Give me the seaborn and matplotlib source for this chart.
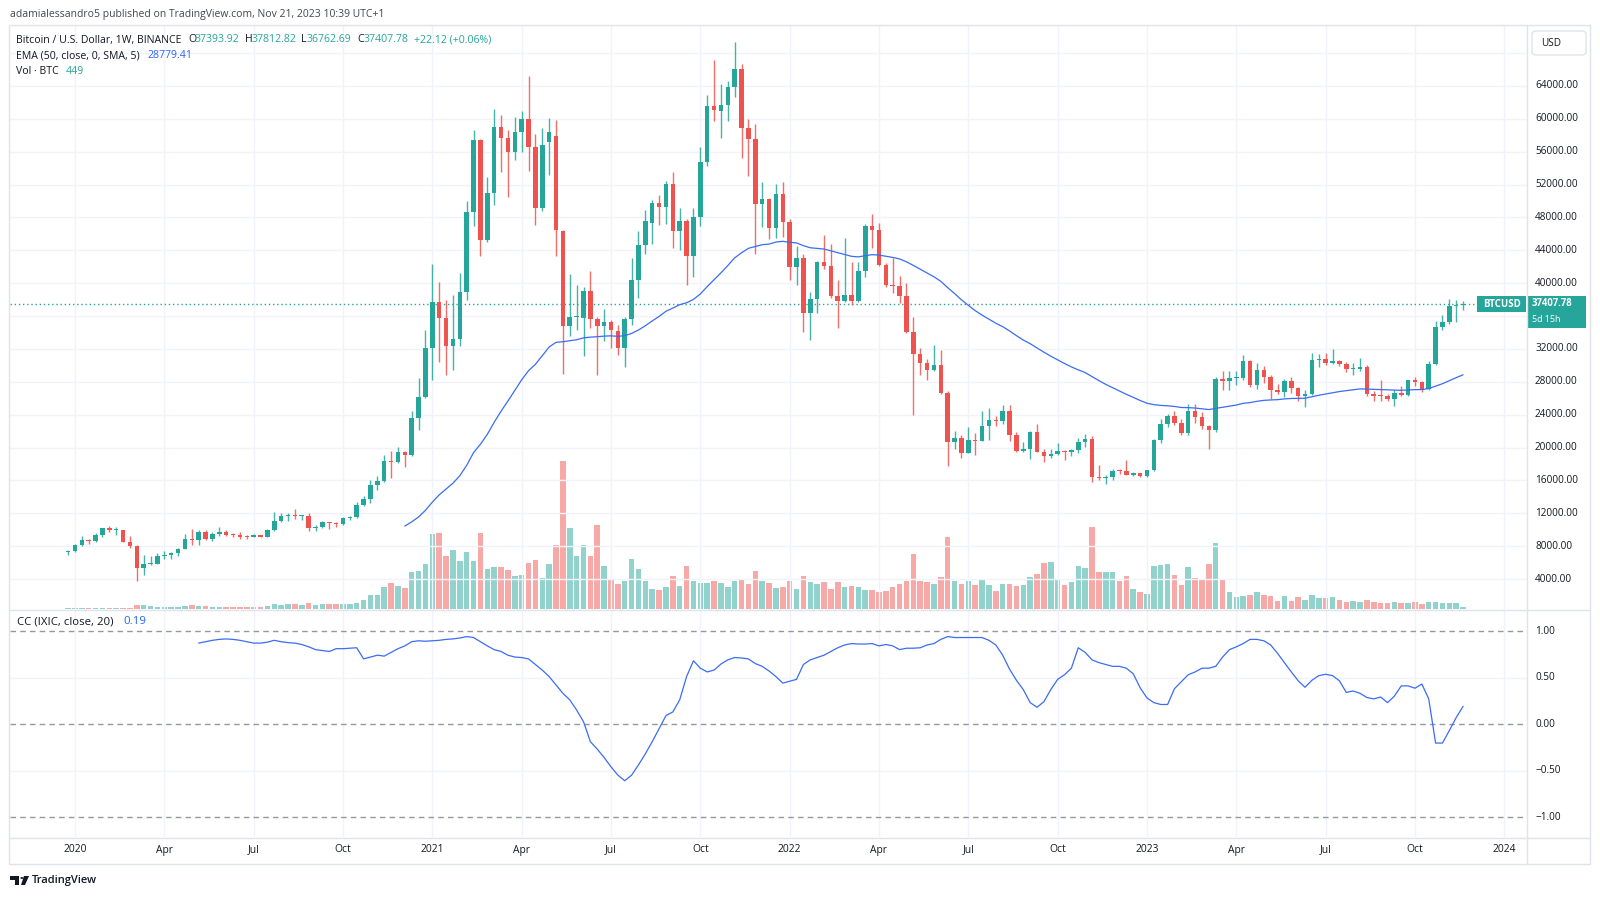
import numpy as np
import pandas as pd
import matplotlib
matplotlib.use("Agg")
import matplotlib.pyplot as plt
import seaborn as sns
from matplotlib.patches import Rectangle, FancyBboxPatch, Circle, Polygon
from matplotlib.lines import Line2D
from matplotlib.transforms import blended_transform_factory

# ---- weekly BTC candles, Binance, first bar = week of 30 Dec 2019 ----
first_week = "2019-12-30"

opens = [
    7250, 7360, 8180, 8700, 8600, 9350, 10150, 9920, 9960, 8530,
    8030, 5360, 5820, 5880, 6780, 6900, 7120, 7700, 8900, 8720,
    9680, 8900, 9450, 9750, 9380, 9300, 9120, 9070, 9300, 9170,
    9930, 11050, 11680, 11850, 11650, 11680, 10250, 10330, 10930, 10770,
    10670, 11370, 11500, 13030, 13740, 15480, 15960, 18400, 18180, 19400,
    19150, 23600, 26150, 32100, 37750, 35800, 32300, 33200, 38900, 48700,
    57450, 45200, 50990, 59000, 57650, 55950, 58400, 59950, 56600, 49200,
    57200, 57900, 46400, 34800, 35870, 35780, 39020, 35600, 34790, 35330,
    34200, 32090, 35690, 40400, 44600, 47300, 49700, 49325, 52100, 46400,
    47570, 43340, 48065, 54770, 61565, 60900, 61655, 63815, 66065, 58820,
    57515, 49640, 50180, 46715, 50900, 47390, 41990, 43115, 36365, 38030,
    42530, 42125, 38390, 37850, 38570, 37850, 41450, 46940, 46490, 42215,
    39740, 39650, 38480, 34025, 31370, 30290, 29480, 30000, 26635, 20640,
    21170, 19355, 20885, 20850, 22665, 23395, 23190, 24410, 21580, 19555,
    19800, 21860, 19475, 18945, 19200, 19555, 19435, 19680, 20690, 21050,
    16450, 16350, 16450, 17200, 17115, 16715, 16900, 16510, 17240, 20970,
    22870, 23880, 22990, 21775, 24410, 23680, 22585, 22180, 28335, 28050,
    28460, 28480, 30485, 27650, 29470, 28540, 27040, 26715, 28135, 27240,
    26230, 26555, 30605, 30770, 30280, 30565, 30200, 29550, 29600, 29795,
    26555, 26300, 26230, 25905, 26635, 26350, 28175, 27930, 27120, 30160,
    34655, 35220, 37245, 37393.92,
]

highs = [
    7550, 8300, 9190, 8900, 9560, 10160, 10500, 10300, 9990, 9190,
    8180, 6900, 6830, 7200, 7470, 7290, 7770, 9470, 10070, 9950,
    10000, 9740, 10380, 10000, 9590, 9760, 9370, 9470, 9350, 10100,
    12120, 12050, 12080, 12490, 11800, 12070, 10580, 11100, 10990, 10950,
    11500, 11720, 13350, 14090, 16070, 16480, 19130, 19580, 20120, 19550,
    24440, 28490, 34340, 42350, 40190, 37940, 38600, 41180, 49955, 58640,
    57600, 52880, 61200, 60440, 58640, 60200, 60890, 65165, 58190, 58900,
    60080, 59855, 46500, 41090, 39740, 39500, 41450, 35900, 36815, 35465,
    34900, 35900, 43115, 46400, 48875, 50090, 50720, 52430, 53555, 49190,
    47840, 49190, 56615, 62915, 67190, 64265, 64580, 69350, 66650, 59990,
    59315, 52340, 50315, 52115, 52340, 47750, 44555, 43565, 38930, 42665,
    45905, 44825, 40370, 45455, 42620, 42620, 47165, 48380, 47300, 42440,
    43115, 40865, 40010, 35915, 32090, 30740, 32510, 31900, 26900, 21980,
    21580, 22545, 21775, 24410, 24815, 23800, 25135, 25215, 21900, 20640,
    22000, 22910, 19800, 19800, 20560, 19650, 19760, 21170, 21655, 21450,
    17845, 16700, 17400, 17400, 18460, 17000, 16920, 17300, 21050, 23480,
    24125, 24410, 23520, 25340, 25300, 24330, 22700, 28540, 29270, 29270,
    29270, 31295, 30600, 30280, 29875, 28860, 27770, 28380, 28540, 27365,
    26960, 31495, 31400, 31495, 32020, 30690, 30360, 30280, 30890, 30080,
    26840, 28255, 26555, 27040, 27525, 28255, 28580, 28050, 30485, 35425,
    36150, 38055, 37970, 37812.82,
]

lows = [
    6870, 7310, 8050, 8240, 8560, 9100, 9730, 9300, 8450, 7800,
    3750, 4440, 5670, 5850, 6470, 6460, 6750, 7630, 8120, 8200,
    8800, 8630, 9270, 9250, 9120, 8830, 8900, 9060, 9070, 9120,
    9900, 10950, 11120, 11250, 11130, 9880, 9880, 10200, 10140, 10370,
    10530, 11180, 11400, 12900, 13200, 14800, 15800, 16340, 18100, 17650,
    19000, 22100, 26000, 28265, 30380, 28850, 29390, 32300, 37990, 47000,
    43250, 44950, 49500, 53465, 50450, 55040, 55940, 53600, 47030, 48750,
    53150, 43250, 29000, 33530, 34250, 31100, 34600, 28850, 32990, 32090,
    31280, 29750, 34900, 38165, 43520, 44780, 47030, 47165, 44240, 44015,
    39830, 40775, 46940, 54230, 59765, 57605, 59765, 62600, 55265, 53015,
    43565, 46850, 45335, 45500, 45590, 40415, 39740, 34115, 33080, 36365,
    41765, 38165, 34565, 37715, 37400, 37715, 40730, 44330, 42100, 39515,
    38840, 37625, 33890, 24000, 28850, 28265, 29300, 26500, 17805, 19820,
    18740, 19300, 19140, 20750, 20885, 22665, 22900, 20845, 19480, 19400,
    18660, 19400, 18255, 18700, 19100, 18460, 19000, 19300, 20100, 15825,
    16105, 15580, 16100, 16800, 16650, 16550, 16450, 16450, 17115, 20560,
    22500, 22800, 21580, 21500, 22990, 22300, 19820, 21855, 26960, 26960,
    27650, 28260, 27365, 27120, 27850, 25905, 26555, 26110, 26635, 25620,
    24935, 26435, 29800, 30080, 30150, 29875, 29190, 28860, 29300, 26230,
    25620, 25620, 25620, 25095, 26300, 26230, 27445, 26715, 27040, 30080,
    34330, 35060, 35220, 36762.69,
]

closes = [
    7360, 8180, 8700, 8600, 9350, 10150, 9920, 9960, 8530, 8030,
    5360, 5820, 5880, 6780, 6900, 7120, 7700, 8900, 8720, 9680,
    8900, 9450, 9750, 9380, 9300, 9120, 9070, 9300, 9170, 9930,
    11050, 11680, 11850, 11650, 11680, 10250, 10330, 10930, 10770, 10670,
    11370, 11500, 13030, 13740, 15480, 15960, 18400, 18180, 19400, 19150,
    23600, 26150, 32100, 37750, 35800, 32300, 33200, 38900, 48700, 57450,
    45200, 50990, 59000, 57650, 55950, 58400, 59950, 56600, 49200, 56750,
    58370, 46490, 34790, 35870, 36050, 39020, 35600, 34790, 35330, 34340,
    32090, 35690, 40400, 44600, 47525, 49700, 49325, 52100, 46400, 47570,
    43340, 48065, 54770, 61565, 61115, 61655, 63815, 66065, 58820, 57515,
    49640, 50180, 46715, 50900, 47390, 41990, 43115, 36365, 38030, 42530,
    42125, 38390, 37850, 38570, 37850, 41450, 46940, 46490, 42215, 39740,
    39650, 38480, 34025, 31370, 30290, 29480, 30000, 26635, 20640, 21170,
    19355, 20885, 20850, 22665, 23395, 23190, 24410, 21580, 19555, 19800,
    21860, 19475, 18945, 19200, 19555, 19435, 19680, 20690, 21050, 16450,
    16350, 16450, 17200, 17115, 16715, 16900, 16510, 17240, 20970, 22870,
    23880, 22990, 21775, 24410, 23680, 22585, 22180, 28335, 28050, 28460,
    28480, 30485, 27650, 29470, 28540, 27040, 26715, 28135, 27240, 26230,
    26555, 30605, 30770, 30280, 30565, 30200, 29550, 29600, 29795, 26555,
    26300, 26230, 25905, 26635, 26350, 28175, 27930, 27120, 30160, 34655,
    35220, 37245, 37385.66, 37407.78,
]

# weekly volume, BTC
volumes = [
    180, 220, 250, 230, 210, 260, 240, 230, 270, 250,
    1140, 1060, 710, 530, 530, 530, 530, 710, 1060, 790,
    710, 530, 530, 530, 530, 530, 530, 530, 530, 710,
    1400, 1060, 1320, 1320, 1060, 1500, 1060, 1320, 1320, 1320,
    1320, 1450, 1480, 2460, 3700, 3700, 5800, 6860, 6070, 5540,
    9770, 10030, 11880, 19800, 20060, 13990, 15580, 12670, 15050, 12670,
    20060, 10560, 11090, 11090, 10300, 8710, 8980, 12140, 12940, 8180,
    11880, 16900, 39070, 21380, 13990, 16900, 13990, 22180, 11350, 7660,
    6600, 7390, 13200, 10560, 7390, 5280, 5020, 5810, 8710, 6070,
    11350, 7390, 6860, 6860, 7390, 6860, 5810, 7390, 7920, 6600,
    10030, 7390, 6860, 5540, 5810, 7390, 5280, 8710, 7130, 6600,
    7130, 5280, 7130, 5810, 6070, 5810, 5020, 5020, 4490, 4750,
    5810, 6600, 7390, 14520, 7390, 7130, 6600, 8450, 19010, 7390,
    6600, 7390, 6340, 7660, 6340, 4750, 6600, 6600, 6070, 6340,
    8450, 9240, 12140, 12410, 7660, 6340, 7130, 11350, 10820, 21650,
    9770, 9770, 9770, 7390, 8710, 5280, 4490, 3960, 11350, 11620,
    11880, 8980, 6340, 11090, 8180, 7660, 11880, 17420, 7660, 4490,
    3170, 3430, 3700, 4490, 3700, 3430, 2110, 3430, 2110, 3170,
    2380, 3700, 2900, 2900, 3170, 2380, 1850, 2110, 1850, 2380,
    1850, 1580, 1580, 1850, 1580, 1580, 1850, 1320, 1850, 1850,
    1580, 1580, 1580, 449,
]

# correlation coefficient vs IXIC (20); undefined for the first 19 bars
cc_values = [np.nan] * 19 + [
    0.87, 0.885, 0.90, 0.91, 0.915, 0.91, 0.90, 0.885, 0.87, 0.87,
    0.88, 0.90, 0.885, 0.875, 0.87, 0.855, 0.83, 0.80, 0.79, 0.78,
    0.81, 0.81, 0.815, 0.82, 0.70, 0.72, 0.74, 0.73, 0.77, 0.81,
    0.84, 0.885, 0.895, 0.89, 0.895, 0.90, 0.91, 0.915, 0.925, 0.94,
    0.93, 0.885, 0.84, 0.80, 0.78, 0.74, 0.72, 0.715, 0.70, 0.64,
    0.58, 0.51, 0.42, 0.33, 0.26, 0.15, 0.025, -0.19, -0.27, -0.36,
    -0.46, -0.55, -0.61, -0.55, -0.44, -0.32, -0.19, -0.05, 0.09, 0.13,
    0.26, 0.51, 0.68, 0.60, 0.56, 0.58, 0.645, 0.69, 0.715, 0.71,
    0.70, 0.65, 0.62, 0.57, 0.51, 0.44, 0.46, 0.48, 0.64, 0.69,
    0.715, 0.74, 0.78, 0.82, 0.85, 0.865, 0.86, 0.86, 0.865, 0.84,
    0.855, 0.84, 0.80, 0.815, 0.815, 0.82, 0.85, 0.865, 0.91, 0.94,
    0.93, 0.93, 0.93, 0.93, 0.93, 0.90, 0.85, 0.74, 0.59, 0.47,
    0.37, 0.23, 0.18, 0.24, 0.37, 0.48, 0.53, 0.60, 0.82, 0.77,
    0.69, 0.66, 0.64, 0.62, 0.62, 0.60, 0.54, 0.39, 0.28, 0.23,
    0.21, 0.21, 0.38, 0.455, 0.53, 0.56, 0.60, 0.60, 0.62, 0.72,
    0.80, 0.83, 0.865, 0.91, 0.91, 0.895, 0.85, 0.76, 0.66, 0.56,
    0.465, 0.395, 0.47, 0.52, 0.535, 0.52, 0.465, 0.34, 0.355, 0.33,
    0.285, 0.27, 0.29, 0.23, 0.30, 0.41, 0.41, 0.385, 0.43, 0.27,
    -0.205, -0.205, -0.07, 0.07, 0.19,
]

ema_legend_value = 28779.41   # as printed in the chart legend
price_ticks = list(range(4000, 68001, 4000))
cc_ticks = [1.0, 0.5, 0.0, -0.5, -1.0]

# ---- look ----
UP, DN = "#26a69a", "#ef5350"
UP_VOL, DN_VOL = "#92d2cc", "#f7a9a7"
BLUE = "#2962ff"
TXT = "#131722"
GRID = "#f0f3fa"
BORDER = "#e0e3eb"

sns.set_theme(style="white")
plt.rcParams["font.family"] = ["Open Sans", "DejaVu Sans"]

W, H = 1600, 898
fig = plt.figure(figsize=(W / 100, H / 100), dpi=100)
fig.patch.set_facecolor("white")


def fx(px):
    return px / W


def fy(py):
    return 1 - py / H


LEFT, RIGHT = 9.5, 1527
P_TOP, P_BOT = 26, 609
C_TOP, C_BOT = 610, 837

rect_p = [fx(LEFT), fy(P_BOT), fx(RIGHT) - fx(LEFT), fy(P_TOP) - fy(P_BOT)]
rect_c = [fx(LEFT), fy(C_BOT), fx(RIGHT) - fx(LEFT), fy(C_TOP) - fy(C_BOT)]

ax_v = fig.add_axes(rect_p)
ax_p = fig.add_axes(rect_p, sharex=ax_v)
ax_c = fig.add_axes(rect_c, sharex=ax_v)

n = len(closes)
idx = np.arange(n)
o = np.array(opens, float)
h = np.array(highs, float)
l = np.array(lows, float)
c = np.array(closes, float)
v = np.array(volumes, float)
up = c >= o

dates = pd.date_range(first_week, periods=n + 10, freq="7D")

ax_v.set_xlim(-8.53, 212.3)
ax_p.set_ylim(352, 71290)
ax_v.set_ylim(0, 583 * 264)
ax_c.set_ylim(-1.215, 1.226)

# time ticks: first weekly bar of each quarter
tick_pos, tick_lab = [], []
for i in range(1, len(dates)):
    d, prev = dates[i], dates[i - 1]
    if d.month != prev.month and d.month in (1, 4, 7, 10):
        tick_pos.append(i)
        tick_lab.append(str(d.year) if d.month == 1 else d.strftime("%b"))

# grid
for p in price_ticks:
    ax_p.axhline(p, color=GRID, lw=1, zorder=0)
for t in tick_pos:
    ax_p.axvline(t, color=GRID, lw=1, zorder=0)
    ax_c.axvline(t, color=GRID, lw=1, zorder=0)
for g in (0.5, -0.5):
    ax_c.axhline(g, color=GRID, lw=1, zorder=0)
for g in (1.0, 0.0, -1.0):
    ax_c.axhline(g, color="#9598a1", lw=1, ls=(0, (4, 3)), zorder=1)

# volume
ax_v.bar(idx, v, width=0.8, color=np.where(up, UP_VOL, DN_VOL), lw=0, zorder=2)

# candles
col = np.where(up, UP, DN)
ax_p.vlines(idx, l, h, colors=col, lw=1, alpha=0.85, zorder=3)
body_lo = np.minimum(o, c)
body_h = np.maximum(np.abs(c - o), 120)
ax_p.bar(idx, body_h, bottom=body_lo, width=0.66, color=col, lw=0, zorder=4)

# EMA 50 (TradingView seeds it with the SMA of the first 50 closes)
ema = np.full(n, np.nan)
ema[49] = c[:50].mean()
alpha = 2 / 51
for k in range(50, n):
    ema[k] = alpha * c[k] + (1 - alpha) * ema[k - 1]
ema_df = pd.DataFrame({"bar": idx, "ema": ema}).dropna()
sns.lineplot(data=ema_df, x="bar", y="ema", ax=ax_p, color="#3a6cf4", lw=0.9, zorder=5)

# last price line
ax_p.axhline(c[-1], xmax=(1477 - LEFT) / (RIGHT - LEFT), color=UP, lw=1,
             ls=(0, (1, 2)), zorder=2)

# CC line
cc_df = pd.DataFrame({"bar": idx, "cc": cc_values}).dropna()
sns.lineplot(data=cc_df, x="bar", y="cc", ax=ax_c, color="#3a6cf4", lw=0.9, zorder=3)
for a in (ax_p, ax_c, ax_v):
    a.set_xlabel("")
    a.set_ylabel("")
    a.set_axis_off()

# pixel row of the last price, used for the price tag and to hide labels under it
y_last_px = ax_p.transData.transform((0, c[-1]))[1]

# right-hand labels
lab_x = (1535 - LEFT) / (RIGHT - LEFT)
bt_p = blended_transform_factory(ax_p.transAxes, ax_p.transData)
for p in price_ticks[:-1]:
    y_px = ax_p.transData.transform((0, p))[1]
    if -28 < y_px - y_last_px < 14:
        continue  # covered by the price tag
    ax_p.text(lab_x, p, f"{p:.2f}", transform=bt_p, ha="left", va="center",
              fontsize=7.2, color=TXT, clip_on=False)
bt_c = blended_transform_factory(ax_c.transAxes, ax_c.transData)
for t in cc_ticks:
    ax_c.text(lab_x, t, f"{t:.2f}".replace("-", "\u2212"), transform=bt_c,
              ha="left", va="center", fontsize=7.2, color=TXT, clip_on=False)

# time labels
bt_t = blended_transform_factory(ax_c.transData, ax_c.transAxes)
for t, s in zip(tick_pos, tick_lab):
    ax_c.text(t, -(850 - C_BOT) / (C_BOT - C_TOP), s, transform=bt_t,
              ha="center", va="center", fontsize=7.4, color=TXT, clip_on=False)

# frame
fig.add_artist(Rectangle((fx(9), fy(864)), fx(1590) - fx(9), fy(25) - fy(864),
                         transform=fig.transFigure, fill=False, ec=BORDER, lw=1))
for yy in (609.5, 837.5):
    fig.add_artist(Line2D([fx(9), fx(1590)], [fy(yy), fy(yy)], color=BORDER, lw=1))
fig.add_artist(Line2D([fx(1527), fx(1527)], [fy(25), fy(864)], color=BORDER, lw=1))

# header texts


def ftext(x, y, s, color=TXT, size=7.6, **kw):
    fig.text(fx(x), fy(y), s, color=color, fontsize=size, ha="left", va="center", **kw)


ftext(10, 14, "adamialessandro5 published on TradingView.com, Nov 21, 2023 10:39 UTC+1",
      color="#434651", size=7.5)
ftext(16, 40, "Bitcoin / U.S. Dollar, 1W, BINANCE")
ftext(188, 40, "O")
ftext(195, 40, f"{o[-1]:.2f}", color=UP)
ftext(245, 40, "H")
ftext(252, 40, f"{h[-1]:.2f}", color=UP)
ftext(301, 40, "L")
ftext(307, 40, f"{l[-1]:.2f}", color=UP)
ftext(357, 40, "C")
ftext(364, 40, f"{c[-1]:.2f}", color=UP)
chg = c[-1] - c[-2]
ftext(414, 40, f"+{chg:.2f} (+{chg / c[-2] * 100:.2f}%)", color=UP)
ftext(16, 56, "EMA (50, close, 0, SMA, 5)")
ftext(147, 56, f"{ema_legend_value:.2f}", color=BLUE)
ftext(16, 72, "Vol \u00b7 BTC")
ftext(66, 72, f"{v[-1]:.0f}", color=UP)
ftext(17, 622, "CC (IXIC, close, 20)", size=8.2)
ftext(123, 622, f"{cc_values[-1]:.2f}", color=BLUE, size=8.2)

# USD box
fig.add_artist(FancyBboxPatch((fx(1532), fy(55)), fx(1586) - fx(1532), fy(31) - fy(55),
                              boxstyle="round,pad=0,rounding_size=0.003",
                              transform=fig.transFigure, fc="white", ec=BORDER, lw=1))
ftext(1541, 43, "USD", size=7.2)

# last price tags
y_last = y_last_px / H
box_h = 16 / H
fig.add_artist(Rectangle((fx(1477), y_last - box_h / 2), fx(1526) - fx(1477), box_h,
                         transform=fig.transFigure, fc=UP, ec="none"))
fig.text(fx(1501.5), y_last, "BTCUSD", color="white", fontsize=6.9, fontweight="bold",
         ha="center", va="center")
fig.add_artist(Rectangle((fx(1527), y_last - box_h / 2 - 16 / H), fx(1586) - fx(1527),
                         box_h + 16 / H, transform=fig.transFigure, fc=UP, ec="none"))
fig.text(fx(1532), y_last + 1 / H, f"{c[-1]:.2f}", color="white", fontsize=6.9,
         fontweight="bold", ha="left", va="center")
fig.text(fx(1532), y_last - 15.5 / H, "5d 15h", color="white", fontsize=6.4,
         ha="left", va="center")

# footer logo
fig.add_artist(Polygon([[fx(10), fy(876)], [fx(19), fy(876)], [fx(19), fy(885)],
                        [fx(15), fy(885)], [fx(15), fy(880)], [fx(10), fy(880)]],
                       closed=True, transform=fig.transFigure, fc=TXT, ec="none"))
fig.add_artist(Circle((fx(22), fy(878)), 1.6 / W, transform=fig.transFigure, fc=TXT, ec="none"))
fig.add_artist(Polygon([[fx(24), fy(876)], [fx(29), fy(876)], [fx(25), fy(885)], [fx(21), fy(885)]],
                       closed=True, transform=fig.transFigure, fc=TXT, ec="none"))
ftext(32, 880, "TradingView", size=8, fontweight="semibold")

fig.savefig("out.png", dpi=100)
